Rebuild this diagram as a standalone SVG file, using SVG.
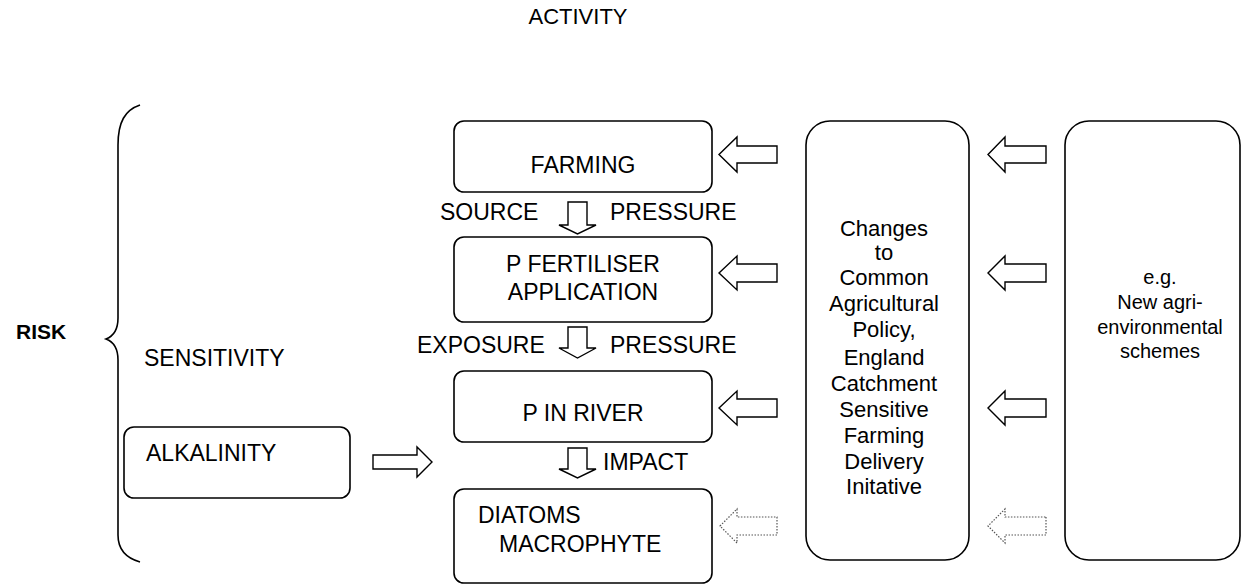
<svg xmlns="http://www.w3.org/2000/svg" width="1244" height="585" viewBox="0 0 1244 585">
<style>
text{font-family:"Liberation Sans",Arial,sans-serif;fill:#000;}
.t{font-size:23px;}
.c{font-size:22px;text-anchor:middle;}
.e{font-size:20px;text-anchor:middle;}
.m{text-anchor:middle;}
.box{fill:#fff;stroke:#000;stroke-width:1.6;}
.arr{fill:#fff;stroke:#000;stroke-width:1.4;stroke-linejoin:miter;}
.dot{fill:#fff;stroke:#555;stroke-width:1.2;stroke-dasharray:1.5 1.5;}
.br{fill:none;stroke:#000;stroke-width:1.6;}
</style>
<rect width="1244" height="585" fill="#fff"/>
<text x="578" y="24" style="font-size:22px" text-anchor="middle">ACTIVITY</text>
<text x="16" y="339" style="font-size:21px;font-weight:bold">RISK</text>
<path class="br" d="M140,105 C125,110 118,122 118,145 L118,318 C118,330 114,336 106,339 C114,342 118,348 118,360 L118,535 C118,550 126,558 140,562"/>
<text class="t" x="144" y="366">SENSITIVITY</text>
<g id="alkalinity">
<rect class="box" x="124" y="427" width="226" height="71" rx="10"/>
<text class="t" x="146" y="461">ALKALINITY</text>
</g>
<g id="farming">
<rect class="box" x="454" y="121" width="258" height="71" rx="10"/>
<text class="t m" x="583" y="173">FARMING</text>
</g>
<g id="fertiliser">
<rect class="box" x="454" y="237" width="258" height="85" rx="10"/>
<text class="t m" x="583" y="272">P FERTILISER</text>
<text class="t m" x="583" y="300">APPLICATION</text>
</g>
<g id="river">
<rect class="box" x="454" y="371" width="258" height="71" rx="10"/>
<text class="t m" x="583" y="421">P IN RIVER</text>
</g>
<g id="diatoms">
<rect class="box" x="454" y="489" width="258" height="94" rx="10"/>
<text class="t" x="478" y="523">DIATOMS</text>
<text class="t" x="499" y="552">MACROPHYTE</text>
</g>
<g id="changes">
<rect class="box" x="806" y="121" width="163" height="439" rx="24"/>
<text class="c" x="884" y="236">Changes</text>
<text class="c" x="884" y="260">to</text>
<text class="c" x="884" y="285">Common</text>
<text class="c" x="884" y="311">Agricultural</text>
<text class="c" x="884" y="337">Policy,</text>
<text class="c" x="884" y="365">England</text>
<text class="c" x="884" y="391">Catchment</text>
<text class="c" x="884" y="417">Sensitive</text>
<text class="c" x="884" y="443">Farming</text>
<text class="c" x="884" y="469">Delivery</text>
<text class="c" x="884" y="494">Initative</text>
</g>
<g id="schemes">
<rect class="box" x="1065" y="121" width="175" height="439" rx="24"/>
<text class="e" x="1160" y="284">e.g.</text>
<text class="e" x="1160" y="309">New agri-</text>
<text class="e" x="1160" y="334">environmental</text>
<text class="e" x="1160" y="358">schemes</text>
</g>
<g id="labels">
<text class="t" x="440" y="220">SOURCE</text>
<text class="t" x="610" y="220">PRESSURE</text>
<text class="t" x="417" y="353">EXPOSURE</text>
<text class="t" x="610" y="353">PRESSURE</text>
<text class="t" x="603" y="470">IMPACT</text>
</g>
<g id="connectors">
<path class="arr" d="M568,202 H587 V225 H596 L577.5,234 L559,225 H568 Z"/>
<path class="arr" d="M568,327 H587 V348 H596 L577.5,358 L559,348 H568 Z"/>
<path class="arr" d="M568,448 H587 V469 H596 L577.5,478 L559,469 H568 Z"/>
<path class="arr" d="M373,455 H417 V447 L432,462 L417,477 V469 H373 Z"/>
<path class="arr" d="M777,146 V163 H737 V172 L719,154.5 L737,137 V146 Z"/>
<path class="arr" d="M777,264 V282 H737 V290 L719,273 L737,256 V264 Z"/>
<path class="arr" d="M777,399 V417 H737 V425 L719,408 L737,391 V399 Z"/>
<path class="dot" d="M777,517 V535 H737 V543 L720,526 L737,509 V517 Z"/>
<path class="arr" d="M1046,146 V163 H1005 V172 L988,154.5 L1005,137 V146 Z"/>
<path class="arr" d="M1046,264 V282 H1005 V290 L988,273 L1005,256 V264 Z"/>
<path class="arr" d="M1046,399 V417 H1005 V425 L988,408 L1005,391 V399 Z"/>
<path class="dot" d="M1046,517 V535 H1005 V543 L988,526 L1005,509 V517 Z"/>
</g>
</svg>
